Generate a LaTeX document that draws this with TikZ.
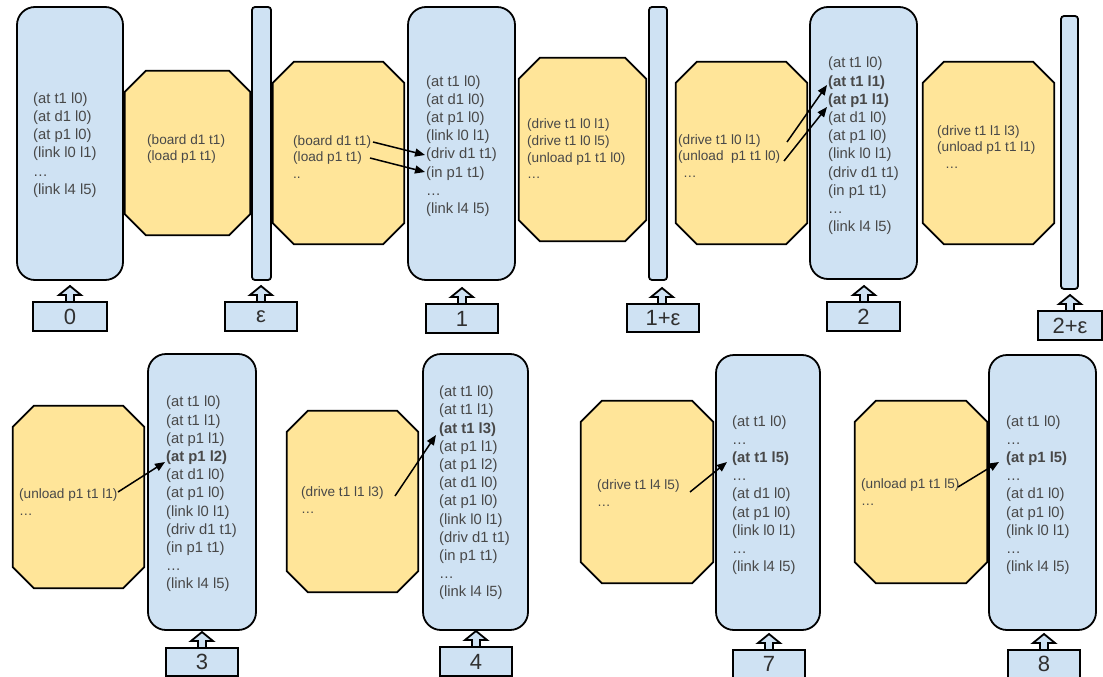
\documentclass[tikz,border=0pt]{standalone}
\usepackage{fontspec}
\setmainfont{Liberation Sans}
\usetikzlibrary{arrows.meta}

\definecolor{sblue}{HTML}{CFE2F3}
\definecolor{syellow}{HTML}{FFE599}
\definecolor{txt}{HTML}{484848}
\definecolor{txtdark}{HTML}{303030}

\tikzset{
  outline/.style={draw=black, line width=1.8pt},
  statebox/.style={outline, fill=sblue, rounded corners=18pt, inner sep=0pt},
  barbox/.style={outline, fill=sblue, rounded corners=3pt, inner sep=0pt},
  frame/.style={inner sep=0pt},
  octfill/.style={outline, fill=syellow, line join=miter},
  facts/.style={anchor=west, align=left, inner sep=0pt, text=txt,
                font=\fontsize{14.8}{18.2}\selectfont},
  acts/.style={anchor=west, align=left, inner sep=0pt, text=txt,
                font=\fontsize{13.6}{16.7}\selectfont},
  stamp/.style={outline, fill=sblue, inner sep=0pt,
                font=\fontsize{22}{22}\selectfont, text=txtdark},
  tick/.style={outline, fill=sblue, line join=miter},
  link/.style={line width=1.5pt, -{Triangle[length=10pt,width=8pt]}},
}

% rectangular node spanning (x1,y1)-(x2,y2): style, name, x1, y1, x2, y2
\newcommand\boxat[6]{%
  \node[#1, minimum width={(#5)-(#3)}, minimum height={(#6)-(#4)}]
    (#2) at ({((#3)+(#5))/2},{((#4)+(#6))/2}) {};}

% octagonal action box: name, x1, y1, x2, y2
\newcommand\octat[5]{%
  \boxat{frame}{#1}{#2}{#3}{#4}{#5}
  \draw[octfill] ([xshift=21pt]#1.north west) -- ([xshift=-21pt]#1.north east)
    -- ([yshift=-21pt]#1.north east) -- ([yshift=21pt]#1.south east)
    -- ([xshift=-21pt]#1.south east) -- ([xshift=21pt]#1.south west)
    -- ([yshift=21pt]#1.south west) -- ([yshift=-21pt]#1.north west) -- cycle;}

% time stamp with its upward block arrow: name, x1, y1, x2, y2, arrow x, text
\newcommand\stampat[7]{%
  \path[tick] ({#6-4},#3) -- ({#6-4},#3-6) -- ({#6-11},#3-6) -- (#6,#3-15)
    -- ({#6+11},#3-6) -- ({#6+4},#3-6) -- ({#6+4},#3);
  \node[stamp, minimum width={(#4)-(#2)}, minimum height={(#5)-(#3)}]
    (#1) at ({((#2)+(#4))/2},{((#3)+(#5))/2+1}) {#7};}

\begin{document}
\begin{tikzpicture}[x=1pt, y=-1pt]
\useasboundingbox (0,0) rectangle (1103,677);

% ---------------- upper row ----------------
\boxat{statebox}{s0}{17}{7}{123}{280}
\node[facts] (t0) at (33,145) {(at t1 l0)\\(at d1 l0)\\(at p1 l0)\\(link l0 l1)\\…\\(link l4 l5)};

\octat{o1}{125}{71}{250}{235}
\node[acts] (u1) at (147,149) {(board d1 t1)\\(load p1 t1)};

\boxat{barbox}{e1}{252}{7}{271}{280}

\octat{o2}{273}{62}{404}{244}
\node[acts] (u2) at (293,157) {(board d1 t1)\\(load p1 t1)\\..};

\boxat{statebox}{s1}{408}{7}{515}{280}
\node[facts] (t1) at (426,146) {(at t1 l0)\\(at d1 l0)\\(at p1 l0)\\(link l0 l1)\\(driv d1 t1)\\(in p1 t1)\\…\\(link l4 l5)};

\octat{o3}{519}{58}{646}{241}
\node[acts] (u3) at (527,149) {(drive t1 l0 l1)\\(drive t1 l0 l5)\\(unload p1 t1 l0)\\…};

\boxat{barbox}{e2}{649}{7}{667}{280}

\octat{o4}{676}{62}{807}{244}
\node[acts] (u4) at (678,156) {(drive t1 l0 l1)\\(unload\ \ p1 t1 l0)\\\hspace{5pt}…};

\boxat{statebox}{s2}{810}{7}{917}{279}
\node[facts] (t2) at (828,146) {(at t1 l0)\\\textbf{(at t1 l1)}\\\textbf{(at p1 l1)}\\(at d1 l0)\\(at p1 l0)\\(link l0 l1)\\(driv d1 t1)\\(in p1 t1)\\…\\(link l4 l5)};

\octat{o5}{923}{62}{1054}{244}
\node[acts] (u5) at (937,147) {(drive t1 l1 l3)\\(unload p1 t1 l1)\\\hspace{8pt}…};

\boxat{barbox}{e3}{1061}{16}{1078}{289}

% time stamps of the upper row
\stampat{l0}{33}{301}{107}{330}{70}{0}
\stampat{le}{225}{301}{297}{330}{261}{ε}
\stampat{l1}{426}{303}{498}{332}{462}{1}
\stampat{l1e}{627}{303}{699}{331}{662}{1+ε}
\stampat{l2}{827}{301}{900}{330}{864}{2}
\stampat{l2e}{1038}{310}{1102}{339}{1070}{2+ε}

% ---------------- lower row ----------------
\octat{o6}{13}{406}{144}{588}
\node[acts] (u6) at (19,502) {(unload p1 t1 l1)\\…};

\boxat{statebox}{s3}{148}{354}{256}{630}
\node[facts] (t3) at (166,494) {(at t1 l0)\\(at t1 l1)\\(at p1 l1)\\\textbf{(at p1 l2)}\\(at d1 l0)\\(at p1 l0)\\(link l0 l1)\\(driv d1 t1)\\(in p1 t1)\\…\\(link l4 l5)};

\octat{o7}{287}{411}{418}{592}
\node[acts] (u7) at (301,500) {(drive t1 l1 l3)\\…};

\boxat{statebox}{s4}{423}{354}{528}{630}
\node[facts] (t4) at (439,493) {(at t1 l0)\\(at t1 l1)\\\textbf{(at t1 l3)}\\(at p1 l1)\\(at p1 l2)\\(at d1 l0)\\(at p1 l0)\\(link l0 l1)\\(driv d1 t1)\\(in p1 t1)\\…\\(link l4 l5)};

\octat{o8}{581}{401}{713}{583}
\node[acts] (u8) at (597,493) {(drive t1 l4 l5)\\…};

\boxat{statebox}{s7}{716}{355}{820}{630}
\node[facts] (t7) at (732,495) {(at t1 l0)\\…\\\textbf{(at t1 l5)}\\…\\(at d1 l0)\\(at p1 l0)\\(link l0 l1)\\…\\(link l4 l5)};

\octat{o9}{855}{401}{987}{583}
\node[acts] (u9) at (861,492) {(unload p1 t1 l5)\\…};

\boxat{statebox}{s8}{989}{355}{1096}{630}
\node[facts] (t8) at (1006,495) {(at t1 l0)\\…\\\textbf{(at p1 l5)}\\…\\(at d1 l0)\\(at p1 l0)\\(link l0 l1)\\…\\(link l4 l5)};

% time stamps of the lower row
\stampat{l3}{166}{647}{238}{675}{202}{3}
\stampat{l4}{440}{646}{512}{675}{476}{4}
\stampat{l7}{733}{649}{805}{677}{769}{7}
\stampat{l8}{1008}{649}{1080}{677}{1044}{8}

% ---------------- effects of actions on facts ----------------
\coordinate (a1s) at (373,142); \coordinate (a1e) at (425,155);
\coordinate (a2s) at (370,158); \coordinate (a2e) at (425,172);
\coordinate (a3s) at (787,142); \coordinate (a3e) at (827,85);
\coordinate (a4s) at (784,161); \coordinate (a4e) at (827,107);
\coordinate (a5s) at (118,492); \coordinate (a5e) at (165,462);
\coordinate (a6s) at (395,496); \coordinate (a6e) at (436,435);
\coordinate (a7s) at (690,492); \coordinate (a7e) at (727,462);
\coordinate (a8s) at (958,487); \coordinate (a8e) at (999,462);
\foreach \k in {1,...,8} \draw[link] (a\k s) -- (a\k e);
\end{tikzpicture}
\end{document}
